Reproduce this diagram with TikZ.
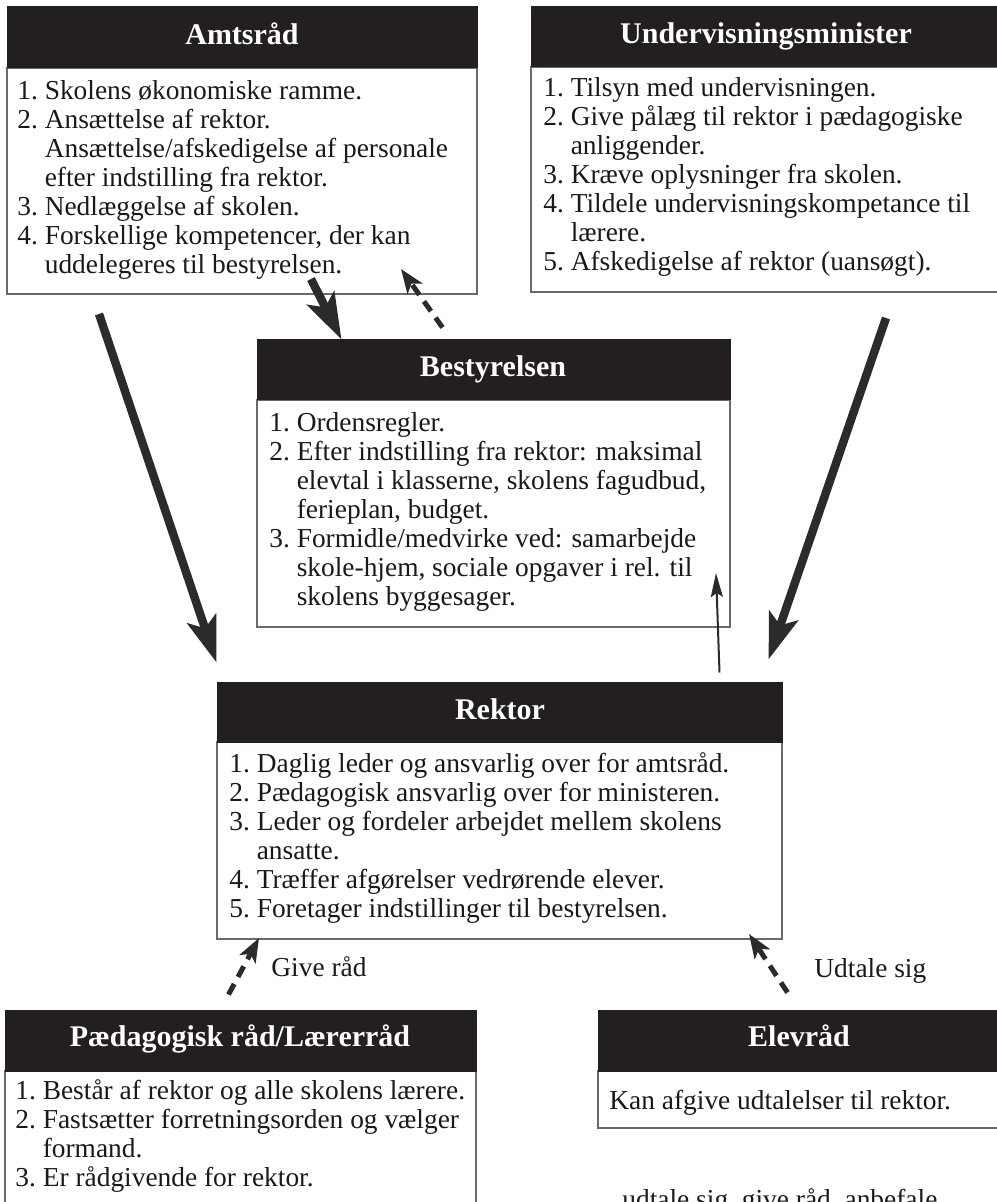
\documentclass[tikz,border=0pt]{standalone}
\usepackage{fontspec}
\setmainfont{Liberation Serif}
\usetikzlibrary{arrows.meta,calc,fit}
\definecolor{hdrfill}{HTML}{231F20}
\definecolor{boxline}{HTML}{6A6A6A}
\definecolor{arr}{HTML}{2B2B2B}
\newcommand\bodyfnt{\fontsize{13.7}{14.5}\selectfont}
\newcommand\hdrfnt{\fontsize{15}{18}\selectfont\bfseries}
\newcommand\hg{\hphantom{2.\ }}
\begin{document}
\begin{tikzpicture}[x=0.5pt,y=-0.5pt,
 hdr/.style={fill=hdrfill,draw=hdrfill,line width=0.5pt,inner sep=0},
 hdrtext/.style={text=white,font=\hdrfnt,inner sep=0,anchor=base},
 bodybox/.style={draw=boxline,line width=1pt,fill=white,inner sep=0},
 bodytext/.style={font=\bodyfnt,align=left,inner sep=0,anchor=north west,text=black!90},
 thickarrow/.style={line width=4.2pt,draw=arr,-{Stealth[length=23pt,width=15pt,inset=5pt]}},
 dasharrow/.style={line width=2.5pt,draw=arr,dash pattern=on 6pt off 4pt,-{Stealth[length=12pt,width=9pt,inset=3pt]}},
 thinarrow/.style={line width=1pt,draw=arr,-{Stealth[length=12pt,width=6pt,inset=2pt]}},
 lbl/.style={font=\bodyfnt,inner sep=0,anchor=base west,text=black!90}]
\useasboundingbox[fill=white] (0,0) rectangle (996,1202);

% Amtsraad
\node[bodybox,fit={(7,68)(477,294)}] (amt) {};
\node[hdr,fit={(7,7)(477,68)}] (amtH) {};
\node[hdrtext] (amtL) at (242,45) {Amtsråd};
\node[bodytext] (amtT) at ($(amt.north west)+(11,12)$) {\strut 1.\ Skolens økonomiske ramme.\\ 2.\ Ansættelse af rektor.\\ \hg Ansættelse/afskedigelse af personale\\ \hg efter indstilling fra rektor.\\ 3.\ Nedlæggelse af skolen.\\ 4.\ Forskellige kompetencer, der kan\\ \hg uddelegeres til bestyrelsen.};

% Undervisningsminister
\node[bodybox,fit={(531,67)(1003,292)}] (und) {};
\node[hdr,fit={(531,7)(1003,67)}] (undH) {};
\node[hdrtext] (undL) at (766,44) {Undervisningsminister};
\node[bodytext] (undT) at ($(und.north west)+(13,10)$) {\strut 1.\ Tilsyn med undervisningen.\\ 2.\ Give pålæg til rektor i pædagogiske\\ \hg anliggender.\\ 3.\ Kræve oplysninger fra skolen.\\ 4.\ Tildele undervisningskompetance til\\ \hg lærere.\\ 5.\ Afskedigelse af rektor (uansøgt).};

% Bestyrelsen
\node[bodybox,fit={(257,400)(730,627)}] (bes) {};
\node[hdr,fit={(257,340)(730,400)}] (besH) {};
\node[hdrtext] (besL) at (493,377) {Bestyrelsen};
\node[bodytext] (besT) at ($(bes.north west)+(13,12)$) {\strut 1.\ Ordensregler.\\ 2.\ Efter indstilling fra rektor: maksimal\\ \hg elevtal i klasserne, skolens fagudbud,\\ \hg ferieplan, budget.\\ 3.\ Formidle/medvirke ved: samarbejde\\ \hg skole-hjem, sociale opgaver i rel. til\\ \hg skolens byggesager.};

% Rektor
\node[bodybox,fit={(217,742)(782,939)}] (rek) {};
\node[hdr,fit={(217,682)(782,742)}] (rekH) {};
\node[hdrtext] (rekL) at (500,719) {Rektor};
\node[bodytext] (rekT) at ($(rek.north west)+(13,11)$) {\strut 1.\ Daglig leder og ansvarlig over for amtsråd.\\ 2.\ Pædagogisk ansvarlig over for ministeren.\\ 3.\ Leder og fordeler arbejdet mellem skolens\\ \hg ansatte.\\ 4.\ Træffer afgørelser vedrørende elever.\\ 5.\ Foretager indstillinger til bestyrelsen.};

% Paedagogisk raad
\node[bodybox,fit={(5,1071)(476,1250)}] (paed) {};
\node[hdr,fit={(5,1010)(476,1071)}] (paedH) {};
\node[hdrtext] (paedL) at (240,1046) {Pædagogisk råd/Lærerråd};
\node[bodytext] (paedT) at ($(paed.north west)+(11,9)$) {\strut 1.\ Består af rektor og alle skolens lærere.\\ 2.\ Fastsætter forretningsorden og vælger\\ \hg formand.\\ 3.\ Er rådgivende for rektor.};

% Elevraad
\node[bodybox,fit={(598,1071)(1003,1128)}] (elev) {};
\node[hdr,fit={(598,1010)(1003,1071)}] (elevH) {};
\node[hdrtext] (elevL) at (799,1046) {Elevråd};
\node[bodytext] (elevT) at ($(elev.north west)+(12,19)$) {\strut Kan afgive udtalelser til rektor.};

% connector end points
\coordinate (aOut) at ($(amt.south west)+(93,19)$);
\coordinate (aIn) at ($(rekH.north west)+(0,-19)$);
\coordinate (uOut) at ($(und.south west)+(356,25)$);
\coordinate (uIn) at ($(rekH.north east)+(-14,-22)$);
\coordinate (abOut) at ($(amt.south west)+(305,-16)$);
\coordinate (abIn) at ($(besH.north west)+(85,0)$);
\coordinate (baOut) at ($(besH.north west)+(186,-12)$);
\coordinate (baIn) at ($(amt.south west)+(395,-26)$);
\coordinate (rbOut) at ($(rekH.north east)+(-63,-9)$);
\coordinate (rbIn) at ($(bes.south east)+(-15,-55)$);
\coordinate (gOut) at ($(paedH.north west)+(224,-15)$);
\coordinate (gIn) at ($(rek.south west)+(43,-2)$);
\coordinate (eOut) at ($(elevH.north west)+(190,-17)$);
\coordinate (eIn) at ($(rek.south east)+(-34,-6)$);

\draw[thickarrow] (aOut) -- (aIn);
\draw[thickarrow] (uOut) -- (uIn);
\draw[thickarrow] (abOut) -- (abIn);
\draw[dasharrow] (baOut) -- (baIn);
\draw[thinarrow] (rbOut) -- (rbIn);
\draw[dasharrow] (gOut) -- (gIn);
\draw[dasharrow] (eOut) -- (eIn);

\node[lbl] (giv) at (271,976) {Give råd};
\node[lbl] (udt) at (814,977) {Udtale sig};
\node[lbl] (bot) at (622,1208) {udtale sig, give råd, anbefale};
\end{tikzpicture}
\end{document}
